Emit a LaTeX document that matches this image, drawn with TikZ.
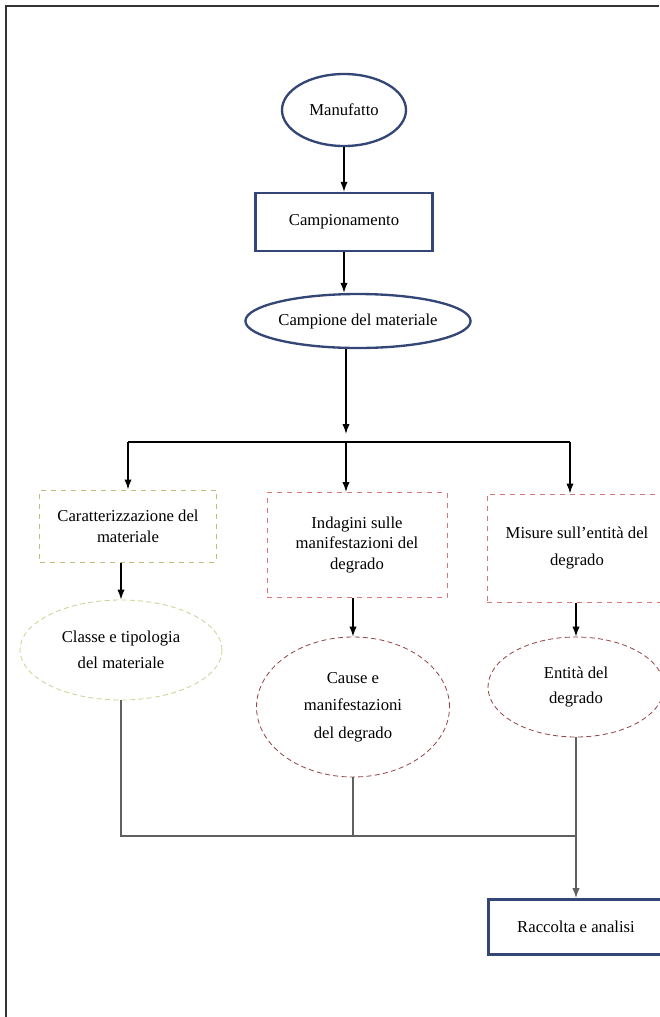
\documentclass[tikz,border=0pt]{standalone}
\usepackage{fontspec}
\setmainfont{Liberation Serif}
\usepackage{xcolor}
\definecolor{myblue}{RGB}{52,70,118}
\definecolor{myolive}{RGB}{196,188,122}
\definecolor{mylime}{RGB}{208,208,150}
\definecolor{myred}{RGB}{214,118,118}
\definecolor{mybrown}{RGB}{150,72,72}
\usetikzlibrary{arrows.meta, positioning, shapes.geometric, calc}
\newlength{\unitpx}
\setlength{\unitpx}{0.6pt}

\begin{document}
\begin{tikzpicture}[x=0.6pt, y=-0.6pt,
    every node/.style={font=\fontsize{10}{12.5}\selectfont, align=center, inner sep=0pt},
    startend/.style={ellipse, draw=myblue, line width=1.4pt},
    process/.style={rectangle, draw=myblue, line width=1.4pt},
    task/.style={rectangle, draw=myred, dashed, line width=0.6pt},
    result/.style={ellipse, draw=mybrown, densely dashed, line width=0.5pt},
    arrow/.style={-{Latex[length=6pt, width=4.4pt]}, line width=0.8pt},
    link/.style={gray!75!black, line width=0.7pt}
]
\useasboundingbox (0,0) rectangle (659,1017);
\draw[line width=0.8pt, black!80] (6,1017) -- (6,6) -- (659,6);

\node[startend, minimum width=124\unitpx, minimum height=72\unitpx] (manu) at (344,110) {Manufatto};
\node[process, minimum width=177\unitpx, minimum height=58\unitpx] (camp) at (344,222) {Campionamento};
\node[startend, minimum width=224\unitpx, minimum height=54\unitpx] (campmat) at (358,321) {Campione del materiale};

\node[task, draw=myolive, minimum width=177\unitpx, minimum height=72\unitpx] (car) at (128,526)
  {Caratterizzazione del\\materiale};
\node[task, minimum width=180\unitpx, minimum height=105\unitpx] (ind) at (357,545)
  {Indagini sulle\\manifestazioni del\\degrado};
\node[task, minimum width=180\unitpx, minimum height=108\unitpx] (mis) at (577,548)
  {Misure sull’entità del\\[4pt]degrado};

\node[result, draw=mylime, minimum width=202\unitpx, minimum height=100\unitpx] (cls) at (121,650)
  {Classe e tipologia\\[3pt]del materiale};
\node[result, minimum width=193\unitpx, minimum height=140\unitpx] (caus) at (353,707)
  {Cause e\\[4pt]manifestazioni\\[4pt]del degrado};
\node[result, minimum width=176\unitpx, minimum height=100\unitpx] (ent) at (576,687)
  {Entità del\\[3pt]degrado};

\node[process, line width=1.8pt, minimum width=176\unitpx, minimum height=55\unitpx] (racc) at (576,927)
  {Raccolta e analisi};

% flusso principale
\draw[arrow] (manu) -- (camp);
\draw[arrow] (camp) -- (camp |- campmat.north);

\coordinate (hub) at (346,442);
\coordinate (hubL) at (128,442);
\coordinate (hubR) at (570,442);
\draw[arrow] (campmat.south -| hub) -- ($(hub)+(0,-8)$);
\draw[line width=0.8pt] (hubL) -- (hubR);
\draw[arrow] (hubL) -- (car.north -| hubL);
\draw[arrow] (hub) -- (ind.north -| hub);
\draw[arrow] (hubR) -- (mis.north -| hubR);

\draw[arrow] (car.south -| cls) -- (cls.north);
\draw[arrow] (ind.south -| caus) -- (caus.north);
\draw[arrow] (mis.south -| ent) -- (ent.north);

% raccolta finale
\coordinate (merge) at (576,836);
\draw[link] (cls.south) |- (merge);
\draw[link] (caus.south) -- (caus.south |- merge);
\draw[arrow, link] (ent.south) -- (racc.north);
\end{tikzpicture}
\end{document}
